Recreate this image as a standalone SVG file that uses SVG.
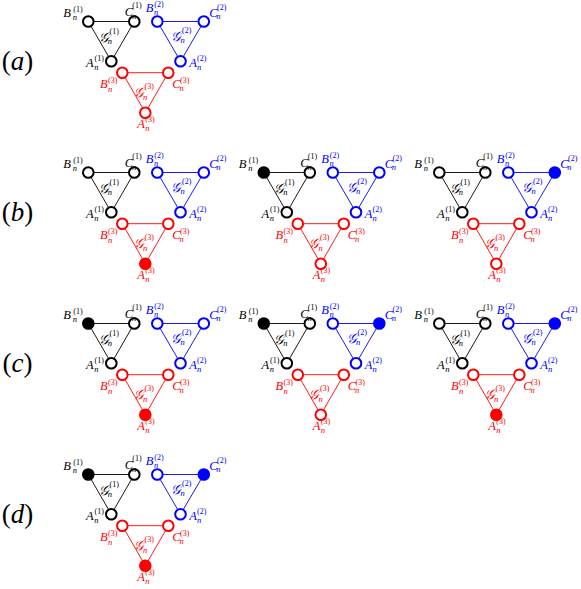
<svg xmlns="http://www.w3.org/2000/svg" width="581" height="589" viewBox="0 0 581 589">
<style>
.bg{fill:#fff}
line{stroke-width:0.9}
.e1{stroke:#000}.e2{stroke:#00f}.e3{stroke:#f00}
circle{stroke-width:2}
.o1{fill:#fff;stroke:#000}.o2{fill:#fff;stroke:#00f}.o3{fill:#fff;stroke:#f00}
.f1{fill:#000;stroke:#000}.f2{fill:#00f;stroke:#00f}.f3{fill:#f00;stroke:#f00}
.t{font-family:"Liberation Serif","DejaVu Serif","DejaVu Sans",serif;font-size:12.5px;font-style:italic}
.g{font-size:13.5px}
.k{fill:#000}.bl{fill:#00f}.rd{fill:#f00}
.s{font-size:8.5px}.p{font-size:8px;font-style:normal}
.pl{font-family:"Liberation Serif","DejaVu Serif",serif;font-size:27px;fill:#000}
.pl tspan{font-style:italic}
</style>
<rect class="bg" width="581" height="589"/>

<g id="panel-labels">
<text class="pl" x="17.5" y="70" text-anchor="middle">(<tspan>a</tspan>)</text>
<text class="pl" x="17.5" y="221" text-anchor="middle">(<tspan>b</tspan>)</text>
<text class="pl" x="17.5" y="372" text-anchor="middle">(<tspan>c</tspan>)</text>
<text class="pl" x="17.5" y="523" text-anchor="middle">(<tspan>d</tspan>)</text>
</g>

<!-- panel a -->
<g id="panel-a">
<g id="a-connectors">
<line class="e1" x1="88.3" y1="21.5" x2="134.3" y2="21.5"/><line class="e1" x1="134.3" y1="21.5" x2="111.3" y2="61.3"/><line class="e1" x1="111.3" y1="61.3" x2="88.3" y2="21.5"/>
<line class="e2" x1="157.3" y1="21.5" x2="203.8" y2="21.5"/><line class="e2" x1="203.8" y1="21.5" x2="180.5" y2="61.3"/><line class="e2" x1="180.5" y1="61.3" x2="157.3" y2="21.5"/>
<line class="e3" x1="122.3" y1="72.7" x2="168.3" y2="72.7"/><line class="e3" x1="168.3" y1="72.7" x2="145.3" y2="112.7"/><line class="e3" x1="145.3" y1="112.7" x2="122.3" y2="72.7"/>
</g>
<g id="a-B1"><circle class="o1" cx="88.3" cy="21.5" r="5.3"/><text class="t k" x="63.3" y="17.3">B<tspan class="s" x="72.8" y="20.3">n</tspan><tspan class="p" x="73.3" y="11.5">(1)</tspan></text></g>
<g id="a-C1"><circle class="o1" cx="134.3" cy="21.5" r="5.3"/><text class="t k" x="124.8" y="16.3">C<tspan class="s" x="132" y="19">n</tspan><tspan class="p" x="132.3" y="7.8">(1)</tspan></text></g>
<g id="a-A1"><circle class="o1" cx="111.3" cy="61.3" r="5.3"/><text class="t k" x="86" y="66.5">A<tspan class="s" x="94.3" y="69.5">n</tspan><tspan class="p" x="94.5" y="60.5">(1)</tspan></text></g>
<g id="a-G1"><text class="t g k" x="98.5" y="41.5">𝒢<tspan class="s" x="107.8" y="44">n</tspan><tspan class="p" x="109.5" y="33.5">(1)</tspan></text></g>
<g id="a-B2"><circle class="o2" cx="157.3" cy="21.5" r="5.3"/><text class="t bl" x="145.7" y="12.2">B<tspan class="s" x="154" y="15.2">n</tspan><tspan class="p" x="154.3" y="6.5">(2)</tspan></text></g>
<g id="a-C2"><circle class="o2" cx="203.8" cy="21.5" r="5.3"/><text class="t bl" x="209.3" y="16.6">C<tspan class="s" x="216.3" y="19.3">n</tspan><tspan class="p" x="217" y="10.3">(2)</tspan></text></g>
<g id="a-A2"><circle class="o2" cx="180.5" cy="61.3" r="5.3"/><text class="t bl" x="189.3" y="66.7">A<tspan class="s" x="197" y="69.8">n</tspan><tspan class="p" x="197" y="61">(2)</tspan></text></g>
<g id="a-G2"><text class="t g bl" x="171.2" y="40.5">𝒢<tspan class="s" x="180.5" y="43">n</tspan><tspan class="p" x="182" y="32.5">(2)</tspan></text></g>
<g id="a-B3"><circle class="o3" cx="122.3" cy="72.7" r="5.3"/><text class="t rd" x="100" y="88.3">B<tspan class="s" x="108" y="91.6">n</tspan><tspan class="p" x="108" y="82.5">(3)</tspan></text></g>
<g id="a-C3"><circle class="o3" cx="168.3" cy="72.7" r="5.3"/><text class="t rd" x="172.3" y="88.3">C<tspan class="s" x="179.5" y="91.3">n</tspan><tspan class="p" x="180" y="82.5">(3)</tspan></text></g>
<g id="a-A3"><circle class="o3" cx="145.3" cy="112.7" r="5.3"/><text class="t rd" x="137.3" y="128.3">A<tspan class="s" x="145.3" y="131">n</tspan><tspan class="p" x="145.3" y="122">(3)</tspan></text></g>
<g id="a-G3"><text class="t g rd" x="133.8" y="97">𝒢<tspan class="s" x="143.1" y="99.5">n</tspan><tspan class="p" x="144.5" y="89">(3)</tspan></text></g>
</g>

<!-- panel b1 -->
<g id="panel-b1" transform="translate(0,151)">
<g id="b1-connectors">
<line class="e1" x1="88.3" y1="21.5" x2="134.3" y2="21.5"/><line class="e1" x1="134.3" y1="21.5" x2="111.3" y2="61.3"/><line class="e1" x1="111.3" y1="61.3" x2="88.3" y2="21.5"/>
<line class="e2" x1="157.3" y1="21.5" x2="203.8" y2="21.5"/><line class="e2" x1="203.8" y1="21.5" x2="180.5" y2="61.3"/><line class="e2" x1="180.5" y1="61.3" x2="157.3" y2="21.5"/>
<line class="e3" x1="122.3" y1="72.7" x2="168.3" y2="72.7"/><line class="e3" x1="168.3" y1="72.7" x2="145.3" y2="112.7"/><line class="e3" x1="145.3" y1="112.7" x2="122.3" y2="72.7"/>
</g>
<g id="b1-B1"><circle class="o1" cx="88.3" cy="21.5" r="5.3"/><text class="t k" x="63.3" y="17.3">B<tspan class="s" x="72.8" y="20.3">n</tspan><tspan class="p" x="73.3" y="11.5">(1)</tspan></text></g>
<g id="b1-C1"><circle class="o1" cx="134.3" cy="21.5" r="5.3"/><text class="t k" x="124.8" y="16.3">C<tspan class="s" x="132" y="19">n</tspan><tspan class="p" x="132.3" y="7.8">(1)</tspan></text></g>
<g id="b1-A1"><circle class="o1" cx="111.3" cy="61.3" r="5.3"/><text class="t k" x="86" y="66.5">A<tspan class="s" x="94.3" y="69.5">n</tspan><tspan class="p" x="94.5" y="60.5">(1)</tspan></text></g>
<g id="b1-G1"><text class="t g k" x="98.5" y="41.5">𝒢<tspan class="s" x="107.8" y="44">n</tspan><tspan class="p" x="109.5" y="33.5">(1)</tspan></text></g>
<g id="b1-B2"><circle class="o2" cx="157.3" cy="21.5" r="5.3"/><text class="t bl" x="145.7" y="12.2">B<tspan class="s" x="154" y="15.2">n</tspan><tspan class="p" x="154.3" y="6.5">(2)</tspan></text></g>
<g id="b1-C2"><circle class="o2" cx="203.8" cy="21.5" r="5.3"/><text class="t bl" x="209.3" y="16.6">C<tspan class="s" x="216.3" y="19.3">n</tspan><tspan class="p" x="217" y="10.3">(2)</tspan></text></g>
<g id="b1-A2"><circle class="o2" cx="180.5" cy="61.3" r="5.3"/><text class="t bl" x="189.3" y="66.7">A<tspan class="s" x="197" y="69.8">n</tspan><tspan class="p" x="197" y="61">(2)</tspan></text></g>
<g id="b1-G2"><text class="t g bl" x="171.2" y="40.5">𝒢<tspan class="s" x="180.5" y="43">n</tspan><tspan class="p" x="182" y="32.5">(2)</tspan></text></g>
<g id="b1-B3"><circle class="o3" cx="122.3" cy="72.7" r="5.3"/><text class="t rd" x="100" y="88.3">B<tspan class="s" x="108" y="91.6">n</tspan><tspan class="p" x="108" y="82.5">(3)</tspan></text></g>
<g id="b1-C3"><circle class="o3" cx="168.3" cy="72.7" r="5.3"/><text class="t rd" x="172.3" y="88.3">C<tspan class="s" x="179.5" y="91.3">n</tspan><tspan class="p" x="180" y="82.5">(3)</tspan></text></g>
<g id="b1-A3"><circle class="f3" cx="145.3" cy="112.7" r="5.3"/><text class="t rd" x="137.3" y="128.3">A<tspan class="s" x="145.3" y="131">n</tspan><tspan class="p" x="145.3" y="122">(3)</tspan></text></g>
<g id="b1-G3"><text class="t g rd" x="133.8" y="97">𝒢<tspan class="s" x="143.1" y="99.5">n</tspan><tspan class="p" x="144.5" y="89">(3)</tspan></text></g>
</g>

<!-- panel b2 -->
<g id="panel-b2" transform="translate(175.5,151)">
<g id="b2-connectors">
<line class="e1" x1="88.3" y1="21.5" x2="134.3" y2="21.5"/><line class="e1" x1="134.3" y1="21.5" x2="111.3" y2="61.3"/><line class="e1" x1="111.3" y1="61.3" x2="88.3" y2="21.5"/>
<line class="e2" x1="157.3" y1="21.5" x2="203.8" y2="21.5"/><line class="e2" x1="203.8" y1="21.5" x2="180.5" y2="61.3"/><line class="e2" x1="180.5" y1="61.3" x2="157.3" y2="21.5"/>
<line class="e3" x1="122.3" y1="72.7" x2="168.3" y2="72.7"/><line class="e3" x1="168.3" y1="72.7" x2="145.3" y2="112.7"/><line class="e3" x1="145.3" y1="112.7" x2="122.3" y2="72.7"/>
</g>
<g id="b2-B1"><circle class="f1" cx="88.3" cy="21.5" r="5.3"/><text class="t k" x="63.3" y="17.3">B<tspan class="s" x="72.8" y="20.3">n</tspan><tspan class="p" x="73.3" y="11.5">(1)</tspan></text></g>
<g id="b2-C1"><circle class="o1" cx="134.3" cy="21.5" r="5.3"/><text class="t k" x="124.8" y="16.3">C<tspan class="s" x="132" y="19">n</tspan><tspan class="p" x="132.3" y="7.8">(1)</tspan></text></g>
<g id="b2-A1"><circle class="o1" cx="111.3" cy="61.3" r="5.3"/><text class="t k" x="86" y="66.5">A<tspan class="s" x="94.3" y="69.5">n</tspan><tspan class="p" x="94.5" y="60.5">(1)</tspan></text></g>
<g id="b2-G1"><text class="t g k" x="98.5" y="41.5">𝒢<tspan class="s" x="107.8" y="44">n</tspan><tspan class="p" x="109.5" y="33.5">(1)</tspan></text></g>
<g id="b2-B2"><circle class="o2" cx="157.3" cy="21.5" r="5.3"/><text class="t bl" x="145.7" y="12.2">B<tspan class="s" x="154" y="15.2">n</tspan><tspan class="p" x="154.3" y="6.5">(2)</tspan></text></g>
<g id="b2-C2"><circle class="o2" cx="203.8" cy="21.5" r="5.3"/><text class="t bl" x="209.3" y="16.6">C<tspan class="s" x="216.3" y="19.3">n</tspan><tspan class="p" x="217" y="10.3">(2)</tspan></text></g>
<g id="b2-A2"><circle class="o2" cx="180.5" cy="61.3" r="5.3"/><text class="t bl" x="189.3" y="66.7">A<tspan class="s" x="197" y="69.8">n</tspan><tspan class="p" x="197" y="61">(2)</tspan></text></g>
<g id="b2-G2"><text class="t g bl" x="171.2" y="40.5">𝒢<tspan class="s" x="180.5" y="43">n</tspan><tspan class="p" x="182" y="32.5">(2)</tspan></text></g>
<g id="b2-B3"><circle class="o3" cx="122.3" cy="72.7" r="5.3"/><text class="t rd" x="100" y="88.3">B<tspan class="s" x="108" y="91.6">n</tspan><tspan class="p" x="108" y="82.5">(3)</tspan></text></g>
<g id="b2-C3"><circle class="o3" cx="168.3" cy="72.7" r="5.3"/><text class="t rd" x="172.3" y="88.3">C<tspan class="s" x="179.5" y="91.3">n</tspan><tspan class="p" x="180" y="82.5">(3)</tspan></text></g>
<g id="b2-A3"><circle class="o3" cx="145.3" cy="112.7" r="5.3"/><text class="t rd" x="137.3" y="128.3">A<tspan class="s" x="145.3" y="131">n</tspan><tspan class="p" x="145.3" y="122">(3)</tspan></text></g>
<g id="b2-G3"><text class="t g rd" x="133.8" y="97">𝒢<tspan class="s" x="143.1" y="99.5">n</tspan><tspan class="p" x="144.5" y="89">(3)</tspan></text></g>
</g>

<!-- panel b3 -->
<g id="panel-b3" transform="translate(351,151)">
<g id="b3-connectors">
<line class="e1" x1="88.3" y1="21.5" x2="134.3" y2="21.5"/><line class="e1" x1="134.3" y1="21.5" x2="111.3" y2="61.3"/><line class="e1" x1="111.3" y1="61.3" x2="88.3" y2="21.5"/>
<line class="e2" x1="157.3" y1="21.5" x2="203.8" y2="21.5"/><line class="e2" x1="203.8" y1="21.5" x2="180.5" y2="61.3"/><line class="e2" x1="180.5" y1="61.3" x2="157.3" y2="21.5"/>
<line class="e3" x1="122.3" y1="72.7" x2="168.3" y2="72.7"/><line class="e3" x1="168.3" y1="72.7" x2="145.3" y2="112.7"/><line class="e3" x1="145.3" y1="112.7" x2="122.3" y2="72.7"/>
</g>
<g id="b3-B1"><circle class="o1" cx="88.3" cy="21.5" r="5.3"/><text class="t k" x="63.3" y="17.3">B<tspan class="s" x="72.8" y="20.3">n</tspan><tspan class="p" x="73.3" y="11.5">(1)</tspan></text></g>
<g id="b3-C1"><circle class="o1" cx="134.3" cy="21.5" r="5.3"/><text class="t k" x="124.8" y="16.3">C<tspan class="s" x="132" y="19">n</tspan><tspan class="p" x="132.3" y="7.8">(1)</tspan></text></g>
<g id="b3-A1"><circle class="o1" cx="111.3" cy="61.3" r="5.3"/><text class="t k" x="86" y="66.5">A<tspan class="s" x="94.3" y="69.5">n</tspan><tspan class="p" x="94.5" y="60.5">(1)</tspan></text></g>
<g id="b3-G1"><text class="t g k" x="98.5" y="41.5">𝒢<tspan class="s" x="107.8" y="44">n</tspan><tspan class="p" x="109.5" y="33.5">(1)</tspan></text></g>
<g id="b3-B2"><circle class="o2" cx="157.3" cy="21.5" r="5.3"/><text class="t bl" x="145.7" y="12.2">B<tspan class="s" x="154" y="15.2">n</tspan><tspan class="p" x="154.3" y="6.5">(2)</tspan></text></g>
<g id="b3-C2"><circle class="f2" cx="203.8" cy="21.5" r="5.3"/><text class="t bl" x="209.3" y="16.6">C<tspan class="s" x="216.3" y="19.3">n</tspan><tspan class="p" x="217" y="10.3">(2)</tspan></text></g>
<g id="b3-A2"><circle class="o2" cx="180.5" cy="61.3" r="5.3"/><text class="t bl" x="189.3" y="66.7">A<tspan class="s" x="197" y="69.8">n</tspan><tspan class="p" x="197" y="61">(2)</tspan></text></g>
<g id="b3-G2"><text class="t g bl" x="171.2" y="40.5">𝒢<tspan class="s" x="180.5" y="43">n</tspan><tspan class="p" x="182" y="32.5">(2)</tspan></text></g>
<g id="b3-B3"><circle class="o3" cx="122.3" cy="72.7" r="5.3"/><text class="t rd" x="100" y="88.3">B<tspan class="s" x="108" y="91.6">n</tspan><tspan class="p" x="108" y="82.5">(3)</tspan></text></g>
<g id="b3-C3"><circle class="o3" cx="168.3" cy="72.7" r="5.3"/><text class="t rd" x="172.3" y="88.3">C<tspan class="s" x="179.5" y="91.3">n</tspan><tspan class="p" x="180" y="82.5">(3)</tspan></text></g>
<g id="b3-A3"><circle class="o3" cx="145.3" cy="112.7" r="5.3"/><text class="t rd" x="137.3" y="128.3">A<tspan class="s" x="145.3" y="131">n</tspan><tspan class="p" x="145.3" y="122">(3)</tspan></text></g>
<g id="b3-G3"><text class="t g rd" x="133.8" y="97">𝒢<tspan class="s" x="143.1" y="99.5">n</tspan><tspan class="p" x="144.5" y="89">(3)</tspan></text></g>
</g>

<!-- panel c1 -->
<g id="panel-c1" transform="translate(0,302)">
<g id="c1-connectors">
<line class="e1" x1="88.3" y1="21.5" x2="134.3" y2="21.5"/><line class="e1" x1="134.3" y1="21.5" x2="111.3" y2="61.3"/><line class="e1" x1="111.3" y1="61.3" x2="88.3" y2="21.5"/>
<line class="e2" x1="157.3" y1="21.5" x2="203.8" y2="21.5"/><line class="e2" x1="203.8" y1="21.5" x2="180.5" y2="61.3"/><line class="e2" x1="180.5" y1="61.3" x2="157.3" y2="21.5"/>
<line class="e3" x1="122.3" y1="72.7" x2="168.3" y2="72.7"/><line class="e3" x1="168.3" y1="72.7" x2="145.3" y2="112.7"/><line class="e3" x1="145.3" y1="112.7" x2="122.3" y2="72.7"/>
</g>
<g id="c1-B1"><circle class="f1" cx="88.3" cy="21.5" r="5.3"/><text class="t k" x="63.3" y="17.3">B<tspan class="s" x="72.8" y="20.3">n</tspan><tspan class="p" x="73.3" y="11.5">(1)</tspan></text></g>
<g id="c1-C1"><circle class="o1" cx="134.3" cy="21.5" r="5.3"/><text class="t k" x="124.8" y="16.3">C<tspan class="s" x="132" y="19">n</tspan><tspan class="p" x="132.3" y="7.8">(1)</tspan></text></g>
<g id="c1-A1"><circle class="o1" cx="111.3" cy="61.3" r="5.3"/><text class="t k" x="86" y="66.5">A<tspan class="s" x="94.3" y="69.5">n</tspan><tspan class="p" x="94.5" y="60.5">(1)</tspan></text></g>
<g id="c1-G1"><text class="t g k" x="98.5" y="41.5">𝒢<tspan class="s" x="107.8" y="44">n</tspan><tspan class="p" x="109.5" y="33.5">(1)</tspan></text></g>
<g id="c1-B2"><circle class="o2" cx="157.3" cy="21.5" r="5.3"/><text class="t bl" x="145.7" y="12.2">B<tspan class="s" x="154" y="15.2">n</tspan><tspan class="p" x="154.3" y="6.5">(2)</tspan></text></g>
<g id="c1-C2"><circle class="o2" cx="203.8" cy="21.5" r="5.3"/><text class="t bl" x="209.3" y="16.6">C<tspan class="s" x="216.3" y="19.3">n</tspan><tspan class="p" x="217" y="10.3">(2)</tspan></text></g>
<g id="c1-A2"><circle class="o2" cx="180.5" cy="61.3" r="5.3"/><text class="t bl" x="189.3" y="66.7">A<tspan class="s" x="197" y="69.8">n</tspan><tspan class="p" x="197" y="61">(2)</tspan></text></g>
<g id="c1-G2"><text class="t g bl" x="171.2" y="40.5">𝒢<tspan class="s" x="180.5" y="43">n</tspan><tspan class="p" x="182" y="32.5">(2)</tspan></text></g>
<g id="c1-B3"><circle class="o3" cx="122.3" cy="72.7" r="5.3"/><text class="t rd" x="100" y="88.3">B<tspan class="s" x="108" y="91.6">n</tspan><tspan class="p" x="108" y="82.5">(3)</tspan></text></g>
<g id="c1-C3"><circle class="o3" cx="168.3" cy="72.7" r="5.3"/><text class="t rd" x="172.3" y="88.3">C<tspan class="s" x="179.5" y="91.3">n</tspan><tspan class="p" x="180" y="82.5">(3)</tspan></text></g>
<g id="c1-A3"><circle class="f3" cx="145.3" cy="112.7" r="5.3"/><text class="t rd" x="137.3" y="128.3">A<tspan class="s" x="145.3" y="131">n</tspan><tspan class="p" x="145.3" y="122">(3)</tspan></text></g>
<g id="c1-G3"><text class="t g rd" x="133.8" y="97">𝒢<tspan class="s" x="143.1" y="99.5">n</tspan><tspan class="p" x="144.5" y="89">(3)</tspan></text></g>
</g>

<!-- panel c2 -->
<g id="panel-c2" transform="translate(175.5,302)">
<g id="c2-connectors">
<line class="e1" x1="88.3" y1="21.5" x2="134.3" y2="21.5"/><line class="e1" x1="134.3" y1="21.5" x2="111.3" y2="61.3"/><line class="e1" x1="111.3" y1="61.3" x2="88.3" y2="21.5"/>
<line class="e2" x1="157.3" y1="21.5" x2="203.8" y2="21.5"/><line class="e2" x1="203.8" y1="21.5" x2="180.5" y2="61.3"/><line class="e2" x1="180.5" y1="61.3" x2="157.3" y2="21.5"/>
<line class="e3" x1="122.3" y1="72.7" x2="168.3" y2="72.7"/><line class="e3" x1="168.3" y1="72.7" x2="145.3" y2="112.7"/><line class="e3" x1="145.3" y1="112.7" x2="122.3" y2="72.7"/>
</g>
<g id="c2-B1"><circle class="f1" cx="88.3" cy="21.5" r="5.3"/><text class="t k" x="63.3" y="17.3">B<tspan class="s" x="72.8" y="20.3">n</tspan><tspan class="p" x="73.3" y="11.5">(1)</tspan></text></g>
<g id="c2-C1"><circle class="o1" cx="134.3" cy="21.5" r="5.3"/><text class="t k" x="124.8" y="16.3">C<tspan class="s" x="132" y="19">n</tspan><tspan class="p" x="132.3" y="7.8">(1)</tspan></text></g>
<g id="c2-A1"><circle class="o1" cx="111.3" cy="61.3" r="5.3"/><text class="t k" x="86" y="66.5">A<tspan class="s" x="94.3" y="69.5">n</tspan><tspan class="p" x="94.5" y="60.5">(1)</tspan></text></g>
<g id="c2-G1"><text class="t g k" x="98.5" y="41.5">𝒢<tspan class="s" x="107.8" y="44">n</tspan><tspan class="p" x="109.5" y="33.5">(1)</tspan></text></g>
<g id="c2-B2"><circle class="o2" cx="157.3" cy="21.5" r="5.3"/><text class="t bl" x="145.7" y="12.2">B<tspan class="s" x="154" y="15.2">n</tspan><tspan class="p" x="154.3" y="6.5">(2)</tspan></text></g>
<g id="c2-C2"><circle class="f2" cx="203.8" cy="21.5" r="5.3"/><text class="t bl" x="209.3" y="16.6">C<tspan class="s" x="216.3" y="19.3">n</tspan><tspan class="p" x="217" y="10.3">(2)</tspan></text></g>
<g id="c2-A2"><circle class="o2" cx="180.5" cy="61.3" r="5.3"/><text class="t bl" x="189.3" y="66.7">A<tspan class="s" x="197" y="69.8">n</tspan><tspan class="p" x="197" y="61">(2)</tspan></text></g>
<g id="c2-G2"><text class="t g bl" x="171.2" y="40.5">𝒢<tspan class="s" x="180.5" y="43">n</tspan><tspan class="p" x="182" y="32.5">(2)</tspan></text></g>
<g id="c2-B3"><circle class="o3" cx="122.3" cy="72.7" r="5.3"/><text class="t rd" x="100" y="88.3">B<tspan class="s" x="108" y="91.6">n</tspan><tspan class="p" x="108" y="82.5">(3)</tspan></text></g>
<g id="c2-C3"><circle class="o3" cx="168.3" cy="72.7" r="5.3"/><text class="t rd" x="172.3" y="88.3">C<tspan class="s" x="179.5" y="91.3">n</tspan><tspan class="p" x="180" y="82.5">(3)</tspan></text></g>
<g id="c2-A3"><circle class="o3" cx="145.3" cy="112.7" r="5.3"/><text class="t rd" x="137.3" y="128.3">A<tspan class="s" x="145.3" y="131">n</tspan><tspan class="p" x="145.3" y="122">(3)</tspan></text></g>
<g id="c2-G3"><text class="t g rd" x="133.8" y="97">𝒢<tspan class="s" x="143.1" y="99.5">n</tspan><tspan class="p" x="144.5" y="89">(3)</tspan></text></g>
</g>

<!-- panel c3 -->
<g id="panel-c3" transform="translate(351,302)">
<g id="c3-connectors">
<line class="e1" x1="88.3" y1="21.5" x2="134.3" y2="21.5"/><line class="e1" x1="134.3" y1="21.5" x2="111.3" y2="61.3"/><line class="e1" x1="111.3" y1="61.3" x2="88.3" y2="21.5"/>
<line class="e2" x1="157.3" y1="21.5" x2="203.8" y2="21.5"/><line class="e2" x1="203.8" y1="21.5" x2="180.5" y2="61.3"/><line class="e2" x1="180.5" y1="61.3" x2="157.3" y2="21.5"/>
<line class="e3" x1="122.3" y1="72.7" x2="168.3" y2="72.7"/><line class="e3" x1="168.3" y1="72.7" x2="145.3" y2="112.7"/><line class="e3" x1="145.3" y1="112.7" x2="122.3" y2="72.7"/>
</g>
<g id="c3-B1"><circle class="o1" cx="88.3" cy="21.5" r="5.3"/><text class="t k" x="63.3" y="17.3">B<tspan class="s" x="72.8" y="20.3">n</tspan><tspan class="p" x="73.3" y="11.5">(1)</tspan></text></g>
<g id="c3-C1"><circle class="o1" cx="134.3" cy="21.5" r="5.3"/><text class="t k" x="124.8" y="16.3">C<tspan class="s" x="132" y="19">n</tspan><tspan class="p" x="132.3" y="7.8">(1)</tspan></text></g>
<g id="c3-A1"><circle class="o1" cx="111.3" cy="61.3" r="5.3"/><text class="t k" x="86" y="66.5">A<tspan class="s" x="94.3" y="69.5">n</tspan><tspan class="p" x="94.5" y="60.5">(1)</tspan></text></g>
<g id="c3-G1"><text class="t g k" x="98.5" y="41.5">𝒢<tspan class="s" x="107.8" y="44">n</tspan><tspan class="p" x="109.5" y="33.5">(1)</tspan></text></g>
<g id="c3-B2"><circle class="o2" cx="157.3" cy="21.5" r="5.3"/><text class="t bl" x="145.7" y="12.2">B<tspan class="s" x="154" y="15.2">n</tspan><tspan class="p" x="154.3" y="6.5">(2)</tspan></text></g>
<g id="c3-C2"><circle class="f2" cx="203.8" cy="21.5" r="5.3"/><text class="t bl" x="209.3" y="16.6">C<tspan class="s" x="216.3" y="19.3">n</tspan><tspan class="p" x="217" y="10.3">(2)</tspan></text></g>
<g id="c3-A2"><circle class="o2" cx="180.5" cy="61.3" r="5.3"/><text class="t bl" x="189.3" y="66.7">A<tspan class="s" x="197" y="69.8">n</tspan><tspan class="p" x="197" y="61">(2)</tspan></text></g>
<g id="c3-G2"><text class="t g bl" x="171.2" y="40.5">𝒢<tspan class="s" x="180.5" y="43">n</tspan><tspan class="p" x="182" y="32.5">(2)</tspan></text></g>
<g id="c3-B3"><circle class="o3" cx="122.3" cy="72.7" r="5.3"/><text class="t rd" x="100" y="88.3">B<tspan class="s" x="108" y="91.6">n</tspan><tspan class="p" x="108" y="82.5">(3)</tspan></text></g>
<g id="c3-C3"><circle class="o3" cx="168.3" cy="72.7" r="5.3"/><text class="t rd" x="172.3" y="88.3">C<tspan class="s" x="179.5" y="91.3">n</tspan><tspan class="p" x="180" y="82.5">(3)</tspan></text></g>
<g id="c3-A3"><circle class="f3" cx="145.3" cy="112.7" r="5.3"/><text class="t rd" x="137.3" y="128.3">A<tspan class="s" x="145.3" y="131">n</tspan><tspan class="p" x="145.3" y="122">(3)</tspan></text></g>
<g id="c3-G3"><text class="t g rd" x="133.8" y="97">𝒢<tspan class="s" x="143.1" y="99.5">n</tspan><tspan class="p" x="144.5" y="89">(3)</tspan></text></g>
</g>

<!-- panel d -->
<g id="panel-d" transform="translate(0,453)">
<g id="d-connectors">
<line class="e1" x1="88.3" y1="21.5" x2="134.3" y2="21.5"/><line class="e1" x1="134.3" y1="21.5" x2="111.3" y2="61.3"/><line class="e1" x1="111.3" y1="61.3" x2="88.3" y2="21.5"/>
<line class="e2" x1="157.3" y1="21.5" x2="203.8" y2="21.5"/><line class="e2" x1="203.8" y1="21.5" x2="180.5" y2="61.3"/><line class="e2" x1="180.5" y1="61.3" x2="157.3" y2="21.5"/>
<line class="e3" x1="122.3" y1="72.7" x2="168.3" y2="72.7"/><line class="e3" x1="168.3" y1="72.7" x2="145.3" y2="112.7"/><line class="e3" x1="145.3" y1="112.7" x2="122.3" y2="72.7"/>
</g>
<g id="d-B1"><circle class="f1" cx="88.3" cy="21.5" r="5.3"/><text class="t k" x="63.3" y="17.3">B<tspan class="s" x="72.8" y="20.3">n</tspan><tspan class="p" x="73.3" y="11.5">(1)</tspan></text></g>
<g id="d-C1"><circle class="o1" cx="134.3" cy="21.5" r="5.3"/><text class="t k" x="124.8" y="16.3">C<tspan class="s" x="132" y="19">n</tspan><tspan class="p" x="132.3" y="7.8">(1)</tspan></text></g>
<g id="d-A1"><circle class="o1" cx="111.3" cy="61.3" r="5.3"/><text class="t k" x="86" y="66.5">A<tspan class="s" x="94.3" y="69.5">n</tspan><tspan class="p" x="94.5" y="60.5">(1)</tspan></text></g>
<g id="d-G1"><text class="t g k" x="98.5" y="41.5">𝒢<tspan class="s" x="107.8" y="44">n</tspan><tspan class="p" x="109.5" y="33.5">(1)</tspan></text></g>
<g id="d-B2"><circle class="o2" cx="157.3" cy="21.5" r="5.3"/><text class="t bl" x="145.7" y="12.2">B<tspan class="s" x="154" y="15.2">n</tspan><tspan class="p" x="154.3" y="6.5">(2)</tspan></text></g>
<g id="d-C2"><circle class="f2" cx="203.8" cy="21.5" r="5.3"/><text class="t bl" x="209.3" y="16.6">C<tspan class="s" x="216.3" y="19.3">n</tspan><tspan class="p" x="217" y="10.3">(2)</tspan></text></g>
<g id="d-A2"><circle class="o2" cx="180.5" cy="61.3" r="5.3"/><text class="t bl" x="189.3" y="66.7">A<tspan class="s" x="197" y="69.8">n</tspan><tspan class="p" x="197" y="61">(2)</tspan></text></g>
<g id="d-G2"><text class="t g bl" x="171.2" y="40.5">𝒢<tspan class="s" x="180.5" y="43">n</tspan><tspan class="p" x="182" y="32.5">(2)</tspan></text></g>
<g id="d-B3"><circle class="o3" cx="122.3" cy="72.7" r="5.3"/><text class="t rd" x="100" y="88.3">B<tspan class="s" x="108" y="91.6">n</tspan><tspan class="p" x="108" y="82.5">(3)</tspan></text></g>
<g id="d-C3"><circle class="o3" cx="168.3" cy="72.7" r="5.3"/><text class="t rd" x="172.3" y="88.3">C<tspan class="s" x="179.5" y="91.3">n</tspan><tspan class="p" x="180" y="82.5">(3)</tspan></text></g>
<g id="d-A3"><circle class="f3" cx="145.3" cy="112.7" r="5.3"/><text class="t rd" x="137.3" y="128.3">A<tspan class="s" x="145.3" y="131">n</tspan><tspan class="p" x="145.3" y="122">(3)</tspan></text></g>
<g id="d-G3"><text class="t g rd" x="133.8" y="97">𝒢<tspan class="s" x="143.1" y="99.5">n</tspan><tspan class="p" x="144.5" y="89">(3)</tspan></text></g>
</g>
</svg>
